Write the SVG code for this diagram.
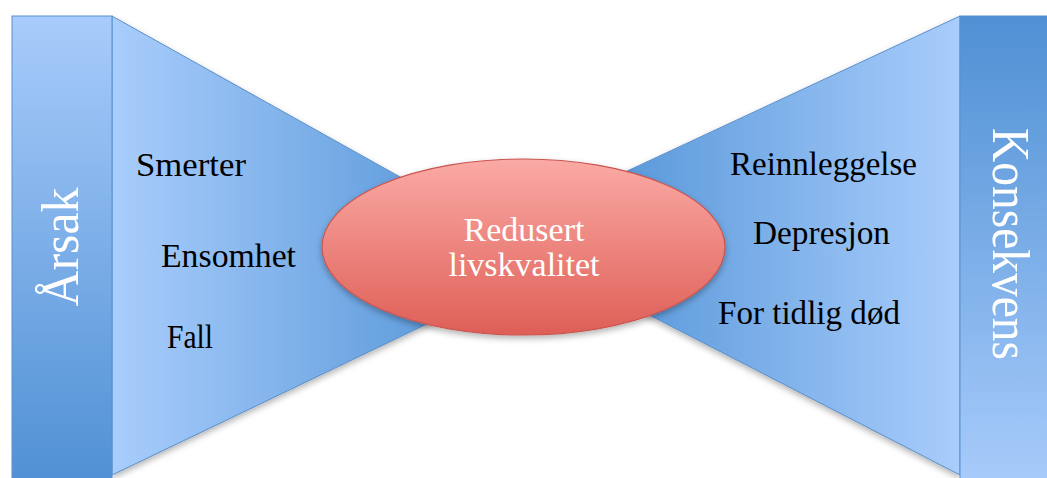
<svg xmlns="http://www.w3.org/2000/svg" width="1047" height="478" viewBox="0 0 1047 478">
  <defs>
    <linearGradient id="barDown" x1="0" y1="0" x2="0" y2="1">
      <stop offset="0" stop-color="#a8ccfb"/>
      <stop offset="1" stop-color="#4f90d4"/>
    </linearGradient>
    <linearGradient id="barUp" x1="0" y1="0" x2="0" y2="1">
      <stop offset="0" stop-color="#4f90d4"/>
      <stop offset="1" stop-color="#a8ccfb"/>
    </linearGradient>
    <linearGradient id="funnelL" gradientUnits="userSpaceOnUse" x1="112" y1="0" x2="440" y2="0">
      <stop offset="0" stop-color="#a9cdfc"/>
      <stop offset="1" stop-color="#5d9bdb"/>
    </linearGradient>
    <linearGradient id="funnelR" gradientUnits="userSpaceOnUse" x1="620" y1="0" x2="960" y2="0">
      <stop offset="0" stop-color="#5a99da"/>
      <stop offset="1" stop-color="#a9cdfc"/>
    </linearGradient>
    <linearGradient id="core" x1="0" y1="0" x2="0" y2="1">
      <stop offset="0" stop-color="#fbaaa5"/>
      <stop offset="1" stop-color="#de5f57"/>
    </linearGradient>
    <filter id="shadow" x="-10%" y="-10%" width="120%" height="130%">
      <feDropShadow dx="0" dy="3" stdDeviation="3" flood-color="#000" flood-opacity="0.3"/>
    </filter>
  </defs>
  <style>
    .bar { stroke: #5b8fcb; stroke-width: 1; }
    .funnel { stroke: #5b8fcb; stroke-width: 1; }
    .item { font-family: "Liberation Serif", "Times New Roman", serif; font-size: 34px; fill: #000; }
    .side { font-family: "Liberation Serif", "Times New Roman", serif; font-size: 52px; fill: #fff; text-anchor: middle; }
    .core-text { font-family: "Liberation Serif", "Times New Roman", serif; font-size: 34px; fill: #fff; text-anchor: middle; }
  </style>

  <rect width="1047" height="478" fill="#fff"/>

  <g id="cause-funnel">
    <polygon class="funnel" points="112,16 554,263 112,475" fill="url(#funnelL)" filter="url(#shadow)"/>
  </g>
  <g id="consequence-funnel">
    <polygon class="funnel" points="960,16 492,234 960,475" fill="url(#funnelR)" filter="url(#shadow)"/>
  </g>

  <g id="cause-bar">
    <rect class="bar" x="12" y="16" width="100" height="470" fill="url(#barDown)"/>
    <text class="side" transform="translate(78,247) rotate(-90)" textLength="119" lengthAdjust="spacingAndGlyphs">Årsak</text>
  </g>
  <g id="consequence-bar">
    <rect class="bar" x="960" y="16" width="100" height="470" fill="url(#barUp)"/>
    <text class="side" transform="translate(993,244) rotate(90)" textLength="232" lengthAdjust="spacingAndGlyphs">Konsekvens</text>
  </g>

  <g id="causes">
    <text class="item" x="136" y="176" textLength="110" lengthAdjust="spacingAndGlyphs">Smerter</text>
    <text class="item" x="161" y="267" textLength="135" lengthAdjust="spacingAndGlyphs">Ensomhet</text>
    <text class="item" x="167" y="348" textLength="46" lengthAdjust="spacingAndGlyphs">Fall</text>
  </g>

  <g id="consequences">
    <text class="item" x="730" y="175" textLength="187" lengthAdjust="spacingAndGlyphs">Reinnleggelse</text>
    <text class="item" x="753" y="244" textLength="137" lengthAdjust="spacingAndGlyphs">Depresjon</text>
    <text class="item" x="718" y="324" textLength="182" lengthAdjust="spacingAndGlyphs">For tidlig død</text>
  </g>

  <g id="core-problem">
    <ellipse cx="523.5" cy="247" rx="201.5" ry="88" fill="url(#core)" stroke="#c9564f" stroke-width="1.2" filter="url(#shadow)"/>
    <text class="core-text" x="524" y="241">Redusert</text>
    <text class="core-text" x="524" y="276">livskvalitet</text>
  </g>
</svg>
